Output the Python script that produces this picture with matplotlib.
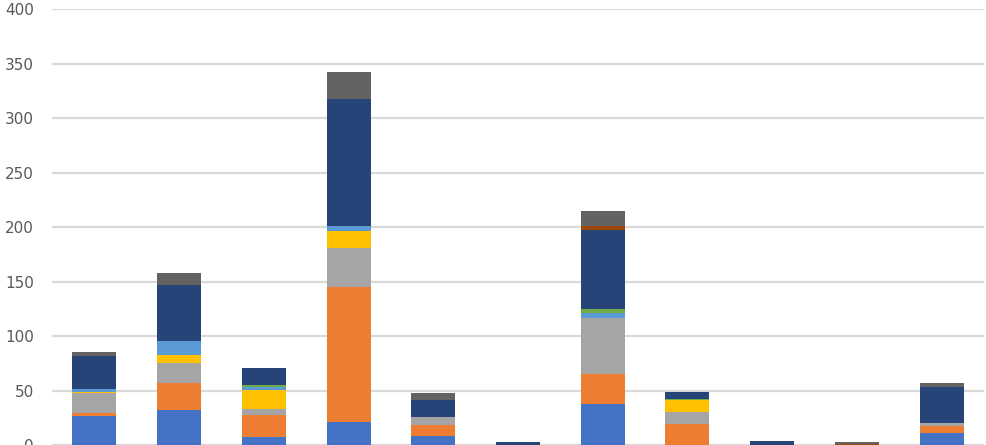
import matplotlib
matplotlib.use("Agg")
import matplotlib.pyplot as plt
import numpy as np

# 11 categories, 9 stacked series (Excel default palette order), bottom -> top
categories = list(range(11))
blue       = [27.0, 32.0,  7.0,  21.0,  8.3, 0.0, 38.0,  0.0, 0.0, 0.0, 10.8]
orange     = [ 2.5, 24.5, 20.5, 123.7, 10.1, 0.0, 26.9, 19.0, 0.0, 0.0,  6.7]
gray       = [18.5, 18.6,  6.0,  36.1,  7.4, 0.0, 51.9, 11.2, 0.0, 0.0,  2.5]
gold       = [ 1.0,  7.3, 17.4,  16.1,  0.0, 0.0,  0.0, 10.7, 0.0, 0.0,  0.0]
light_blue = [ 2.5, 13.1,  2.2,   4.6,  0.0, 0.0,  4.6,  0.0, 0.0, 0.0,  0.0]
green      = [ 0.0,  0.0,  2.0,   0.0,  0.0, 0.0,  3.0,  1.2, 0.0, 0.0,  0.0]
dark_blue  = [30.5, 51.0, 15.9, 115.8, 15.5, 2.6, 72.7,  7.0, 3.6, 0.0, 33.0]
brown      = [ 0.0,  0.0,  0.0,   0.0,  0.0, 0.0,  3.7,  0.0, 0.0, 1.0,  0.0]
dark_gray  = [ 3.0, 11.6,  0.0,  24.7,  6.2, 0.0, 13.7,  0.0, 0.0, 1.8,  3.6]

series = [blue, orange, gray, gold, light_blue, green, dark_blue, brown, dark_gray]
colors = ["#4472C4", "#ED7D31", "#A5A5A5", "#FFC000", "#5B9BD5",
          "#70AD47", "#264478", "#9E480E", "#636363"]
yticks = [0, 50, 100, 150, 200, 250, 300, 350, 400]

fig = plt.figure(figsize=(9.86, 4.45), dpi=100)
ax = fig.add_axes([52 / 986, 0.0, (984 - 52) / 986, (445 - 9.3) / 445])

x = np.arange(len(categories))
bottom = np.zeros(len(categories))
for vals, c in zip(series, colors):
    ax.bar(x, vals, width=0.52, bottom=bottom, color=c, zorder=3)
    bottom += np.array(vals)

ax.set_xlim(-0.5, len(categories) - 0.5)
ax.set_ylim(0, 400)
ax.set_yticks(yticks)
ax.set_xticks([])
ax.grid(axis="y", color="#d9d9d9", lw=1.6, zorder=0)
for s in ax.spines.values():
    s.set_visible(False)
# the "0" label sits on the bottom edge and is clipped, as in the source image
ax.tick_params(axis="y", length=0, pad=13, labelsize=11, labelcolor="#595959")

fig.savefig("out.png", dpi=100)
